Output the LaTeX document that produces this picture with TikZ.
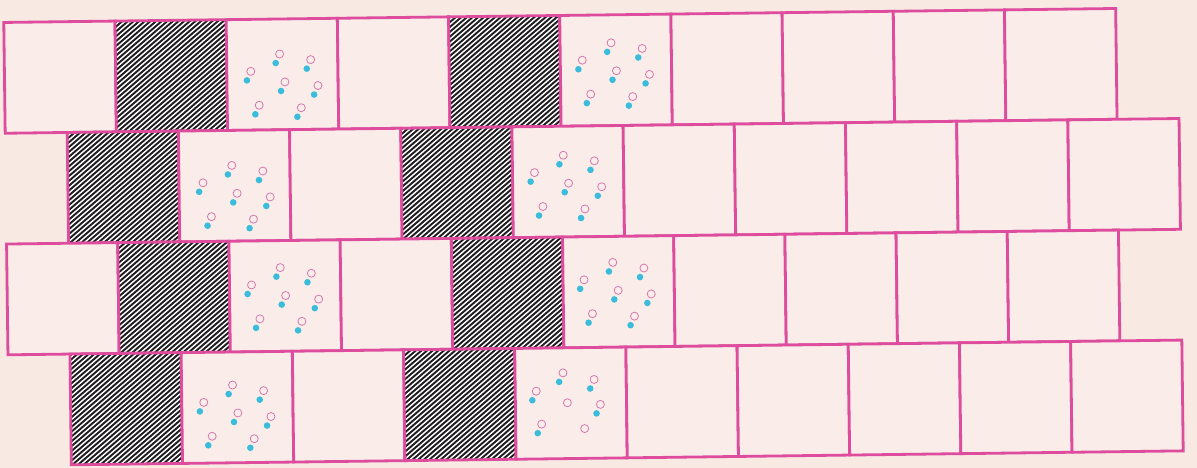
\documentclass[tikz,border=0pt]{standalone}
\usepackage{tikz}

\definecolor{paper}{RGB}{249,233,227}
\definecolor{tileline}{RGB}{222,76,158}
\definecolor{stripeink}{RGB}{30,28,30}
\definecolor{dotcyan}{RGB}{58,188,218}
\definecolor{ringpink}{RGB}{212,120,176}

\begin{document}
\begin{tikzpicture}[
  x = 1pt, y = -1pt,
  plaintile/.style = {rectangle, draw=tileline, line width=2.8pt, fill=paper!80!white,
                      minimum width=111.2pt, minimum height=110.8pt,
                      inner sep=0pt, outer sep=0pt, transform shape},
  hatchtile/.style = {plaintile, fill=white, path picture={
      \foreach \k in {-28,...,28}
        \draw[stripeink, line width=1.9pt]
          ([xshift=\k*5.7pt]path picture bounding box.center) ++(220:130pt) -- ++(40:260pt);
    }},
  spottile/.style  = {plaintile},
  ring/.style      = {draw=ringpink, line width=0.8pt},
  spot/.style      = {fill=dotcyan},
]
  \fill[paper] (0,0) rectangle (1197,468);
  \useasboundingbox (0,0) rectangle (1197,468);

  \begin{scope}[rotate around={0.72:(598.5,237)}]
    % row 1
    \foreach \kind [count=\c] in {plaintile,hatchtile,spottile,plaintile,hatchtile,
                                  spottile,plaintile,plaintile,plaintile,plaintile}
      \node[\kind] (r1c\c) at ({6.5+111.2*(\c-0.5)}, 70.4) {};
    % row 2
    \foreach \kind [count=\c] in {hatchtile,spottile,plaintile,hatchtile,spottile,
                                  plaintile,plaintile,plaintile,plaintile,plaintile}
      \node[\kind] (r2c\c) at ({68.5+111.2*(\c-0.5)}, 181.2) {};
    % row 3
    \foreach \kind [count=\c] in {plaintile,hatchtile,spottile,plaintile,hatchtile,
                                  spottile,plaintile,plaintile,plaintile,plaintile}
      \node[\kind] (r3c\c) at ({6.5+111.2*(\c-0.5)}, 292.0) {};
    % row 4
    \foreach \kind [count=\c] in {hatchtile,spottile,plaintile,hatchtile,spottile,
                                  plaintile,plaintile,plaintile,plaintile,plaintile}
      \node[\kind] (r4c\c) at ({68.5+111.2*(\c-0.5)}, 402.8) {};
  \end{scope}

  % rings and spots
  \foreach \t/\ox/\oy in {r1c3/0/0, r1c6/-2/-7, r2c2/0/0, r2c5/-2/-6,
                          r3c3/-2/-8, r3c6/-3/-9, r4c2/-2/-2} {
    \begin{scope}[shift={(\t.north west)}, rotate=0.72]
      \foreach \px/\py in {49/44, 80/50, 20/61, 54/72, 87/76, 28/95, 70/98} {
        \draw[ring] (\px+\ox+4, \py+\oy-9) circle[radius=4];
        \fill[spot] (\px+\ox, \py+\oy) circle[radius=3.3];
      }
    \end{scope}
  }
  \begin{scope}[shift={(r4c5.north west)}, rotate=0.72]
    \foreach \px/\py in {44/34, 75/41, 17/52, 81/66, 22/85} {
      \draw[ring] (\px+4, \py-9) circle[radius=4];
      \fill[spot] (\px, \py) circle[radius=3.3];
    }
    \draw[ring] (52,55) circle[radius=4];
    \draw[ring] (69,81) circle[radius=4];
  \end{scope}
\end{tikzpicture}
\end{document}
